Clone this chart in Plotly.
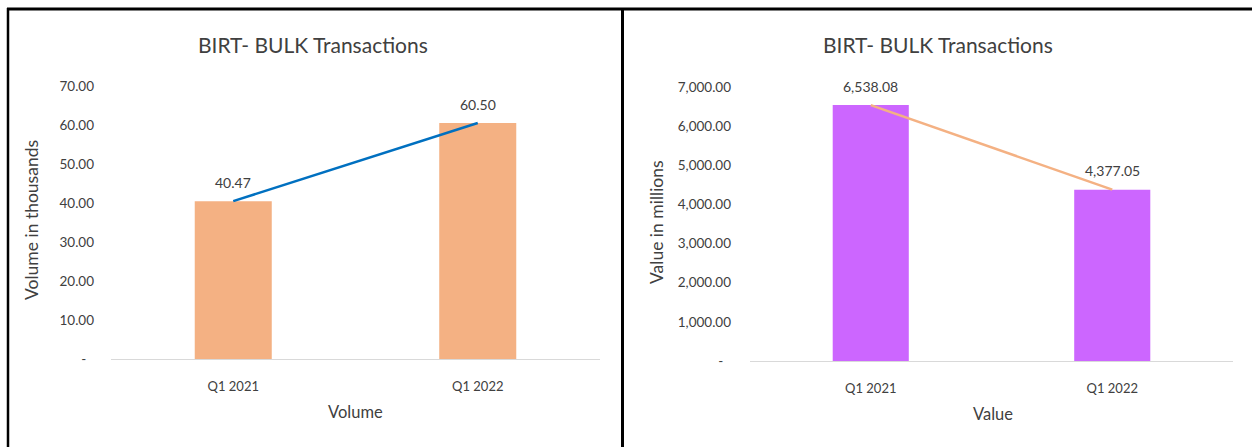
import plotly.graph_objects as go

# Quarterly BIRT bulk transaction figures
quarters = ["Q1 2021", "Q1 2022"]
volume_thousands = [40.47, 60.50]
value_millions = [6538.08, 4377.05]

vol_ticks = [0, 10, 20, 30, 40, 50, 60, 70]
val_ticks = [0, 1000, 2000, 3000, 4000, 5000, 6000, 7000]

W, H = 1252, 447
FONT = "Lato"
TXT = "#404040"
PEACH = "#F4B183"
PURPLE = "#CC66FF"
BLUE = "#0070C0"


def px_x(p):
    return p / W


def px_y(p):
    return 1 - p / H


fig = go.Figure()

# Left panel: volume
fig.add_trace(go.Bar(x=quarters, y=volume_thousands, width=0.315,
                     marker=dict(color=PEACH, line=dict(width=0)),
                     xaxis="x", yaxis="y", hoverinfo="skip"))
fig.add_trace(go.Scatter(x=quarters, y=volume_thousands, mode="lines",
                         line=dict(color=BLUE, width=2.5),
                         xaxis="x", yaxis="y", hoverinfo="skip"))

# Right panel: value
fig.add_trace(go.Bar(x=quarters, y=value_millions, width=0.315,
                     marker=dict(color=PURPLE, line=dict(width=0)),
                     xaxis="x2", yaxis="y2", hoverinfo="skip"))
fig.add_trace(go.Scatter(x=quarters, y=value_millions, mode="lines",
                         line=dict(color=PEACH, width=2.5),
                         xaxis="x2", yaxis="y2", hoverinfo="skip"))

annotations = []
# data labels above each bar
for q, v in zip(quarters, volume_thousands):
    annotations.append(dict(x=q, y=v, xref="x", yref="y", text=f"{v:,.2f}",
                            showarrow=False, yshift=19, yanchor="middle",
                            font=dict(family=FONT, size=14, color=TXT)))
for q, v in zip(quarters, value_millions):
    annotations.append(dict(x=q, y=v, xref="x2", yref="y2", text=f"{v:,.2f}",
                            showarrow=False, yshift=19, yanchor="middle",
                            font=dict(family=FONT, size=14, color=TXT)))

# panel titles
for cx, txt in [(313, "BIRT- BULK Transactions"), (938, "BIRT- BULK Transactions")]:
    annotations.append(dict(x=px_x(cx), y=px_y(45), xref="paper", yref="paper",
                            text=txt, showarrow=False, xanchor="center", yanchor="middle",
                            font=dict(family=FONT, size=21, color=TXT)))

# axis titles
annotations += [
    dict(x=px_x(31), y=px_y(220), xref="paper", yref="paper", text="Volume in thousands",
         textangle=-90, showarrow=False, xanchor="center", yanchor="middle",
         font=dict(family=FONT, size=17.5, color=TXT)),
    dict(x=px_x(657), y=px_y(222), xref="paper", yref="paper", text="Value in millions",
         textangle=-90, showarrow=False, xanchor="center", yanchor="middle",
         font=dict(family=FONT, size=17.5, color=TXT)),
    dict(x=px_x(356), y=px_y(412), xref="paper", yref="paper", text="Volume",
         showarrow=False, xanchor="center", yanchor="middle",
         font=dict(family=FONT, size=16.5, color=TXT)),
    dict(x=px_x(993), y=px_y(414), xref="paper", yref="paper", text="Value",
         showarrow=False, xanchor="center", yanchor="middle",
         font=dict(family=FONT, size=16.5, color=TXT)),
]

vol_text = ["-\u2007" if t == 0 else f"{t:,.2f}" for t in vol_ticks]
val_text = ["-\u2007" if t == 0 else f"{t:,.2f}" for t in val_ticks]

tick_font = dict(family=FONT, size=13.5, color=TXT)
cat_font = dict(family=FONT, size=13, color=TXT)

fig.update_layout(
    template="none",
    width=W, height=H,
    margin=dict(l=0, r=0, t=0, b=0, pad=0, autoexpand=False),
    paper_bgcolor="white", plot_bgcolor="white",
    showlegend=False,
    annotations=annotations,
    xaxis=dict(domain=[px_x(111), px_x(600)], anchor="y", type="category", automargin=False,
               showline=True, linecolor="#D9D9D9", linewidth=1, showgrid=False,
               ticks="", tickfont=cat_font, ticklabelstandoff=15, fixedrange=True),
    yaxis=dict(domain=[px_y(359), px_y(86)], anchor="x", range=[0, 70], automargin=False,
               tickvals=vol_ticks, ticktext=vol_text, showgrid=False, zeroline=False,
               showline=False, ticks="", tickfont=tick_font, ticklabelstandoff=16,
               fixedrange=True),
    xaxis2=dict(domain=[px_x(750), px_x(1233)], anchor="y2", type="category", automargin=False,
                showline=True, linecolor="#D9D9D9", linewidth=1, showgrid=False,
                ticks="", tickfont=cat_font, ticklabelstandoff=15, fixedrange=True),
    yaxis2=dict(domain=[px_y(361), px_y(87)], anchor="x2", range=[0, 7000], automargin=False,
                tickvals=val_ticks, ticktext=val_text, showgrid=False, zeroline=False,
                showline=False, ticks="", tickfont=tick_font, ticklabelstandoff=18,
                fixedrange=True),
    shapes=[
        # outer frame: top edge, left edge and panel divider
        dict(type="line", xref="paper", yref="paper", x0=px_x(7), x1=1, y0=px_y(9), y1=px_y(9),
             line=dict(color="black", width=3)),
        dict(type="line", xref="paper", yref="paper", x0=px_x(8), x1=px_x(8), y0=0, y1=px_y(8),
             line=dict(color="black", width=2.5)),
        dict(type="line", xref="paper", yref="paper", x0=px_x(622.5), x1=px_x(622.5), y0=0, y1=px_y(8),
             line=dict(color="black", width=3)),
    ],
)

fig.write_html("out.html", config={"displayModeBar": False})
